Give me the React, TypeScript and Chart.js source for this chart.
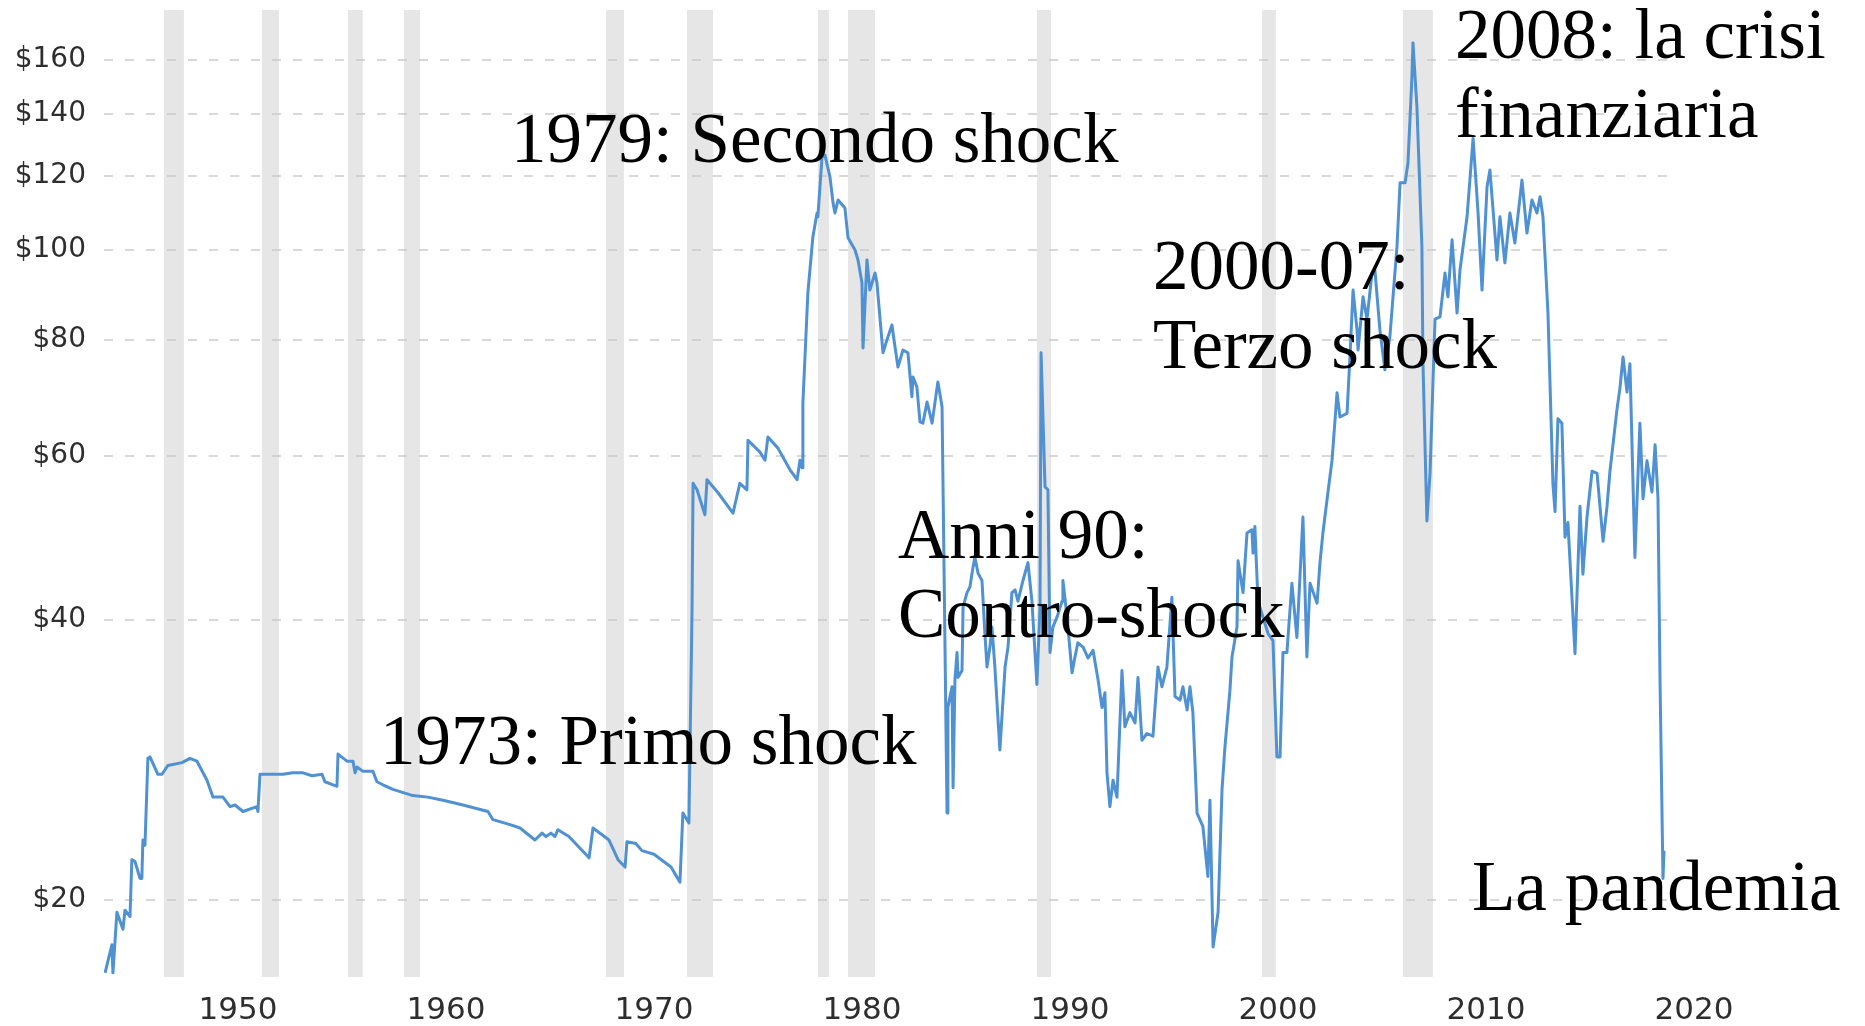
import React, { useEffect, useRef } from "react";
import { Chart, registerables } from "chart.js";

Chart.register(...registerables);

// Years as positioned on the picture's x axis, and inflation-adjusted price in $
const years = [
  1943.61, 1943.94, 1943.99, 1944.18, 1944.47, 1944.57, 1944.81, 1944.9, 1945.05, 1945.29,
  1945.38, 1945.43, 1945.53, 1945.67, 1945.77, 1946.15, 1946.35, 1946.63, 1947.31, 1947.69,
  1948.03, 1948.51, 1948.8, 1949.28, 1949.62, 1949.86, 1950.24, 1950.91, 1950.96, 1951.06,
  1952.16, 1952.64, 1953.13, 1953.56, 1954.04, 1954.18, 1954.57, 1954.76, 1954.81, 1955.24,
  1955.53, 1955.63, 1955.72, 1956.01, 1956.49, 1956.68, 1956.97, 1957.45, 1958.41, 1959.13,
  1959.86, 1960.82, 1962.02, 1962.26, 1963.08, 1963.56, 1964.28, 1964.62, 1964.81, 1965.05,
  1965.24, 1965.38, 1965.91, 1966.88, 1967.07, 1967.84, 1968.27, 1968.61, 1968.7, 1969.13,
  1969.42, 1970.0, 1970.82, 1971.25, 1971.39, 1971.68, 1971.83, 1971.88, 1972.07, 1972.45,
  1972.55, 1973.08, 1973.8, 1974.13, 1974.47, 1974.52, 1975.1, 1975.34, 1975.48, 1975.96,
  1976.54, 1976.88, 1977.02, 1977.12, 1977.16, 1977.4, 1977.64, 1977.84, 1977.88, 1978.08,
  1978.22, 1978.46, 1978.61, 1978.7, 1978.85, 1979.18, 1979.33, 1979.66, 1979.81, 1980.0,
  1980.05, 1980.24, 1980.38, 1980.63, 1980.72, 1980.87, 1981.01, 1981.2, 1981.44, 1981.59,
  1981.73, 1981.97, 1982.21, 1982.4, 1982.45, 1982.64, 1982.79, 1982.93, 1983.13, 1983.37,
  1983.65, 1983.85, 1984.09, 1984.13, 1984.33, 1984.38, 1984.47, 1984.57, 1984.62, 1984.81,
  1984.86, 1985.05, 1985.19, 1985.34, 1985.43, 1985.58, 1985.77, 1985.91, 1986.01, 1986.15,
  1986.25, 1986.39, 1986.63, 1986.88, 1987.02, 1987.21, 1987.36, 1987.5, 1987.74, 1987.98,
  1988.17, 1988.41, 1988.56, 1988.61, 1988.8, 1988.94, 1989.04, 1989.18, 1989.38, 1989.62,
  1989.66, 1989.86, 1989.9, 1990.1, 1990.24, 1990.38, 1990.63, 1990.87, 1991.11, 1991.35,
  1991.54, 1991.68, 1991.78, 1991.92, 1992.07, 1992.26, 1992.5, 1992.64, 1992.88, 1993.13,
  1993.27, 1993.46, 1993.7, 1993.99, 1994.23, 1994.42, 1994.66, 1994.9, 1995.05, 1995.29,
  1995.43, 1995.63, 1995.77, 1995.91, 1996.11, 1996.39, 1996.63, 1996.73, 1996.88, 1997.12,
  1997.31, 1997.45, 1997.69, 1997.79, 1998.03, 1998.08, 1998.32, 1998.51, 1998.75, 1998.8,
  1998.89, 1999.04, 1999.52, 1999.76, 1999.95, 2000.1, 2000.24, 2000.43, 2000.67, 2000.91,
  2001.2, 2001.39, 2001.54, 2001.88, 2002.02, 2002.16, 2002.4, 2002.6, 2002.84, 2002.98,
  2003.32, 2003.46, 2003.61, 2003.8, 2003.85, 2004.09, 2004.28, 2004.52, 2004.66, 2004.9,
  2005.14, 2005.38, 2005.72, 2005.87, 2006.11, 2006.25, 2006.44, 2006.49, 2006.68, 2006.92,
  2006.97, 2007.16, 2007.31, 2007.55, 2007.79, 2008.03, 2008.17, 2008.37, 2008.61, 2008.75,
  2009.09, 2009.38, 2009.62, 2009.81, 2010.05, 2010.19, 2010.53, 2010.67, 2010.91, 2011.15,
  2011.39, 2011.73, 2011.97, 2012.21, 2012.45, 2012.6, 2012.74, 2012.98, 2013.22, 2013.32,
  2013.46, 2013.65, 2013.8, 2013.94, 2014.28, 2014.52, 2014.66, 2014.86, 2015.1, 2015.34,
  2015.63, 2015.82, 2015.96, 2016.3, 2016.44, 2016.59, 2016.78, 2016.92, 2017.16, 2017.4,
  2017.55, 2017.74, 2017.98, 2018.13, 2018.27, 2018.37, 2018.51, 2018.56,
];

const prices = [
  16.7, 17.9, 16.7, 19.4, 18.6, 19.5, 19.2, 22.1, 22.0, 21.1,
  21.1, 23.2, 22.9, 28.4, 28.5, 27.3, 27.3, 27.9, 28.1, 28.4,
  28.2, 26.9, 25.8, 25.8, 25.2, 25.3, 24.9, 25.2, 24.9, 27.3,
  27.3, 27.4, 27.4, 27.2, 27.3, 26.8, 26.6, 26.5, 28.7, 28.2,
  28.2, 27.4, 27.8, 27.5, 27.5, 26.8, 26.6, 26.3, 25.9, 25.8,
  25.6, 25.3, 24.9, 24.4, 24.1, 23.9, 23.2, 23.6, 23.4, 23.6,
  23.4, 23.8, 23.4, 22.2, 23.9, 23.2, 22.1, 21.7, 23.1, 23.0,
  22.6, 22.4, 21.7, 20.9, 24.8, 24.2, 41.0, 56.1, 55.2, 51.9,
  56.6, 54.8, 52.1, 56.1, 55.2, 62.4, 60.6, 59.4, 62.9, 61.2,
  58.0, 56.6, 59.4, 58.3, 68.4, 89.9, 103.2, 109.5, 108.5, 125.8,
  126.4, 119.8, 112.3, 109.5, 113.1, 110.9, 103.0, 100.0, 97.5, 92.1,
  78.4, 97.5, 90.5, 94.4, 92.1, 84.2, 77.5, 80.0, 83.0, 78.6,
  74.8, 78.0, 77.5, 69.5, 73.0, 71.2, 65.3, 65.1, 68.6, 65.1,
  72.1, 67.8, 24.8, 32.2, 33.9, 26.4, 34.5, 36.9, 34.7, 35.3,
  41.3, 42.8, 43.4, 45.6, 46.7, 44.9, 44.1, 38.7, 35.6, 37.4,
  39.3, 35.6, 29.0, 35.6, 37.4, 42.8, 43.1, 41.9, 44.1, 46.1,
  41.9, 34.1, 41.3, 77.5, 55.6, 55.2, 36.9, 39.3, 40.3, 41.9,
  44.1, 40.3, 39.3, 35.1, 36.5, 37.8, 37.4, 36.4, 37.1, 34.5,
  32.2, 33.4, 27.4, 25.2, 26.9, 25.8, 35.3, 30.7, 31.8, 31.0,
  34.7, 29.7, 30.2, 30.0, 35.6, 33.9, 35.6, 42.3, 33.1, 32.8,
  33.9, 32.0, 33.9, 31.8, 24.8, 24.0, 21.2, 25.6, 17.8, 19.4,
  26.3, 29.2, 33.6, 36.5, 39.3, 46.3, 42.8, 49.6, 50.0, 47.2,
  50.4, 41.9, 38.7, 38.0, 28.5, 28.5, 36.9, 36.9, 43.8, 38.3,
  51.6, 36.5, 43.8, 41.7, 46.1, 49.6, 54.8, 59.4, 70.2, 66.1,
  66.7, 76.7, 90.5, 82.0, 78.0, 89.0, 84.2, 94.4, 95.1, 82.0,
  74.3, 80.6, 100.7, 118.0, 118.0, 124.0, 153.4, 166.8, 142.4, 100.7,
  75.6, 51.1, 57.5, 84.2, 84.7, 94.4, 89.0, 102.5, 85.5, 95.1,
  108.5, 131.7, 109.5, 90.5, 116.8, 121.8, 97.5, 108.5, 96.8, 109.5,
  101.7, 118.8, 104.2, 113.1, 109.5, 114.0, 108.5, 85.5, 55.9, 52.3,
  65.8, 65.1, 49.1, 50.9, 36.8, 53.0, 44.8, 51.7, 57.8, 57.5,
  48.6, 53.0, 57.8, 67.4, 71.0, 76.7, 70.3, 75.4, 46.7, 65.1,
  54.0, 59.3, 54.9, 61.7, 54.0, 34.1, 21.1, 22.6,
];

// Recession bands (start, end) on the picture's x axis
const recessionStarts = [1946.44, 1951.15, 1955.29, 1957.98, 1967.69, 1971.59, 1977.88, 1979.33, 1988.41, 1999.23, 2006.01];
const recessionEnds = [1947.4, 1951.97, 1956.0, 1958.75, 1968.56, 1972.84, 1978.41, 1980.63, 1989.09, 1999.9, 2007.45];

const yTicks = [20, 40, 60, 80, 100, 120, 140, 160];
const xTicks = [1950, 1960, 1970, 1980, 1990, 2000, 2010, 2020];

const X_MIN = 1943.56;
const X_MAX = 2022.02;
const GRID_END = 2019.13;
const Y_MIN = 16.53;
const Y_MAX = 181;

const ANNOTATIONS = [
  { lines: ["1979: Secondo shock"], x: 511, y: 162 },
  { lines: ["2008: la crisi", "finanziaria"], x: 1455, y: 58 },
  { lines: ["2000-07:", "Terzo shock"], x: 1153, y: 289 },
  { lines: ["Anni 90:", "Contro-shock"], x: 898, y: 558 },
  { lines: ["1973: Primo shock"], x: 380, y: 764 },
  { lines: ["La pandemia"], x: 1472, y: 910 },
];
const ANNOT_LINE_HEIGHT = 79;

const backgroundPlugin = {
  id: "bandsAndGrid",
  beforeDatasetsDraw(chart: any) {
    const { ctx, chartArea, scales } = chart;
    const xs = scales.x;
    const ys = scales.y;
    ctx.save();
    ctx.fillStyle = "#e6e6e6";
    for (let i = 0; i < recessionStarts.length; i++) {
      const x0 = xs.getPixelForValue(recessionStarts[i]);
      const x1 = xs.getPixelForValue(recessionEnds[i]);
      ctx.fillRect(x0, chartArea.top, x1 - x0, chartArea.bottom - chartArea.top);
    }
    ctx.strokeStyle = "rgba(200,200,200,0.7)";
    ctx.lineWidth = 2;
    ctx.setLineDash([9, 12]);
    const xEnd = xs.getPixelForValue(GRID_END);
    for (const t of yTicks) {
      const y = Math.round(ys.getPixelForValue(t));
      ctx.beginPath();
      ctx.moveTo(chartArea.left, y);
      ctx.lineTo(xEnd, y);
      ctx.stroke();
    }
    ctx.restore();
  },
};

const annotationPlugin = {
  id: "annotations",
  afterDraw(chart: any) {
    const { ctx } = chart;
    ctx.save();
    ctx.fillStyle = "#000";
    ctx.font = '71px "Liberation Serif"';
    ctx.textBaseline = "alphabetic";
    ctx.textAlign = "left";
    for (const a of ANNOTATIONS) {
      a.lines.forEach((line, i) => {
        ctx.fillText(line, a.x, a.y + i * ANNOT_LINE_HEIGHT);
      });
    }
    ctx.restore();
  },
};

export default function App() {
  const canvasRef = useRef<HTMLCanvasElement | null>(null);

  useEffect(() => {
    if (!canvasRef.current) return;
    const chart = new Chart(canvasRef.current, {
      type: "line",
      data: {
        datasets: [
          {
            data: years.map((x, i) => ({ x, y: prices[i] })),
            borderColor: "#4f91d3",
            borderWidth: 3,
            pointRadius: 0,
            tension: 0,
            fill: false,
            borderJoinStyle: "round",
          },
        ],
      },
      options: {
        animation: false,
        responsive: false,
        devicePixelRatio: 1,
        layout: { padding: { left: 0, top: 10, right: 129, bottom: 0 } },
        plugins: { legend: { display: false }, tooltip: { enabled: false } },
        scales: {
          x: {
            type: "linear",
            min: X_MIN,
            max: X_MAX,
            afterBuildTicks: (s: any) => {
              s.ticks = xTicks.map((v) => ({ value: v }));
            },
            afterFit: (s: any) => {
              s.height = 49;
              s.paddingLeft = 0;
              s.paddingRight = 0;
            },
            ticks: {
              autoSkip: false,
              maxRotation: 0,
              padding: 15,
              color: "#2e2e2e",
              font: { family: "DejaVu Sans", size: 31 },
              callback: (v: any) => String(v),
            },
            grid: { display: false, drawTicks: false },
            border: { display: false },
          },
          y: {
            type: "logarithmic",
            min: Y_MIN,
            max: Y_MAX,
            afterBuildTicks: (s: any) => {
              s.ticks = yTicks.map((v) => ({ value: v }));
            },
            afterFit: (s: any) => {
              s.width = 104;
              s.paddingTop = 0;
              s.paddingBottom = 0;
            },
            ticks: {
              autoSkip: false,
              padding: 18,
              color: "#2e2e2e",
              font: { family: "DejaVu Sans", size: 28 },
              callback: (v: any) => "$" + v,
            },
            grid: { display: false, drawTicks: false },
            border: { display: false },
          },
        },
      },
      plugins: [backgroundPlugin, annotationPlugin],
    } as any);
    return () => chart.destroy();
  }, []);

  return (
    <div style={{ position: "fixed", left: 0, top: 0, width: 1865, height: 1026, background: "#fff" }}>
      <canvas ref={canvasRef} width={1865} height={1026} style={{ display: "block" }} />
    </div>
  );
}
